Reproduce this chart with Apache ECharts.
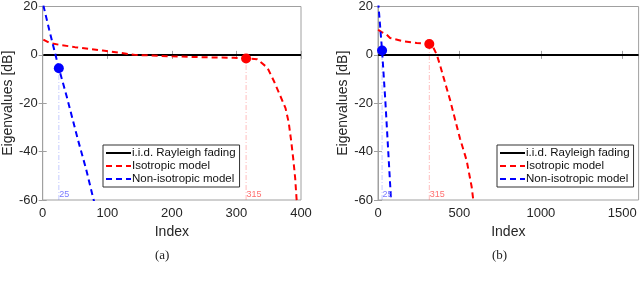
<!DOCTYPE html>
<html>
<head>
<meta charset="utf-8">
<script src="https://cdn.jsdelivr.net/npm/echarts@6/dist/echarts.min.js"></script>
<style>html,body{margin:0;padding:0;background:#fff}#c{width:640px;height:281px}</style>
</head>
<body>
<div id="c"></div>
<script>
// ---- data ----
const xTicksA = [0, 100, 200, 300, 400];
const xTicksB = [0, 500, 1000, 1500];
const yTicks = [-60, -40, -20, 0, 20];
const seriesNames = ['i.i.d. Rayleigh fading', 'Isotropic model', 'Non-isotropic model'];

// panel (a), N = 400
const iidIdxA = [1, 400];
const iidDbA = [0, 0];
const isoIdxA = [1, 10, 25, 50, 93, 143, 200, 250, 296, 315, 332, 348, 358, 368, 376, 381, 385, 388, 391, 393, 395];
const isoDbA = [6.3, 5.0, 4.2, 3.2, 1.8, 0.0, -0.6, -1.0, -1.2, -1.5, -1.8, -5.3, -10.8, -17.0, -22.0, -28.0, -36.0, -43.0, -51.0, -59.0, -66.0];
const nonIdxA = [1, 10, 25, 37, 55, 67, 78, 82];
const nonDbA = [20.5, 10.5, -5.5, -17.0, -35.5, -47.0, -59.0, -63.0];
const markIdxA = [25, 315];
const markDbA = [-5.5, -1.5];

// panel (b), N = 1600
const iidIdxB = [1, 1600];
const iidDbB = [0, 0];
const isoIdxB = [1, 20, 53, 74, 156, 238, 315, 340, 360, 380, 401, 442, 503, 544, 575, 585, 600];
const isoDbB = [10.4, 9.5, 8.4, 7.0, 5.6, 4.9, 4.5, 3.0, 0.2, -4.0, -9.0, -18.5, -34.5, -43.6, -54.5, -60.0, -66.0];
const nonIdxB = [1, 25, 45, 63, 80, 84];
const nonDbB = [22.0, 1.8, -19.0, -40.0, -60.0, -65.0];
const markIdxB = [25, 315];
const markDbB = [1.8, 4.5];

const captions = ['(a)', '(b)'];

// ---- chart ----
const zip = (xs, ys) => xs.map((x, i) => [x, ys[i]]);
const FONT = 'Liberation Sans';
const GRAY = '#a0a0a0';
const TXT = '#262626';

const grids = [
  {left: 39, top: 5, width: 262, height: 195},
  {left: 378, top: 5, width: 260.6, height: 195}
];

function xAxesFor(gi, max, interval) {
  const base = {
    type: 'value', gridIndex: gi, min: 0, max: max, interval: interval,
    splitLine: {show: false},
    axisLine: {show: true, lineStyle: {color: GRAY, width: 1}},
    axisTick: {show: true, inside: true, length: 4, lineStyle: {color: GRAY}}
  };
  return [
    Object.assign({}, base, {
      position: 'bottom',
      name: 'Index', nameLocation: 'middle', nameGap: 23,
      nameTextStyle: {fontFamily: FONT, fontSize: 14, color: TXT},
      axisLabel: {show: true, margin: 7, fontFamily: FONT, fontSize: 13, color: TXT,
        formatter: v => String(v)}
    }),
    Object.assign({}, base, {position: 'top', axisLabel: {show: false}})
  ];
}
function yAxesFor(gi) {
  const base = {
    type: 'value', gridIndex: gi, min: -60, max: 20, interval: 20,
    splitLine: {show: false},
    axisLine: {show: true, lineStyle: {color: GRAY, width: 1}},
    axisTick: {show: true, inside: true, length: 4, lineStyle: {color: GRAY}}
  };
  return [
    Object.assign({}, base, {
      position: 'left',
      name: 'Eigenvalues [dB]', nameLocation: 'middle', nameGap: 25,
      nameTextStyle: {fontFamily: FONT, fontSize: 14, color: TXT},
      axisLabel: {show: true, margin: 5, fontFamily: FONT, fontSize: 13, color: TXT}
    }),
    Object.assign({}, base, {position: 'right', axisLabel: {show: false}})
  ];
}

const xAxis = [...xAxesFor(0, 400, 100), ...xAxesFor(1, 1600, 500)];
const yAxis = [...yAxesFor(0), ...yAxesFor(1)];

function panelSeries(p, iid, iso, non, markIdx, markDb) {
  const xi = p * 2, yi = p * 2;
  const common = {type: 'line', xAxisIndex: xi, yAxisIndex: yi, symbol: 'none', silent: true, animation: false, clip: true};
  const s = [];
  s.push(Object.assign({}, common, {name: seriesNames[0], data: iid, z: 3,
    lineStyle: {color: '#000', width: 2, type: 'solid'}, itemStyle: {color: '#000'}}));
  const vcol = ['rgba(90,110,255,0.35)', 'rgba(255,90,90,0.4)'];
  const lcol = ['#5a5aff', '#ff4a4a'];
  markIdx.forEach((m, k) => {
    s.push(Object.assign({}, common, {name: 'v' + p + k, data: [[m, -60], [m, markDb[k]]], z: 1,
      lineStyle: {color: vcol[k], width: 1, type: [5, 2, 1, 2]}}));
    s.push({type: 'scatter', xAxisIndex: xi, yAxisIndex: yi, name: 'lab' + p + k, silent: true, animation: false,
      data: [[m, -60]], symbolSize: 1, itemStyle: {color: 'rgba(0,0,0,0)'}, z: 4,
      label: {show: true, position: 'right', distance: 0, offset: [0, -5], formatter: String(m),
        fontFamily: FONT, fontSize: 9, color: lcol[k]}});
  });
  s.push(Object.assign({}, common, {name: seriesNames[1], data: iso, z: 3,
    lineStyle: {color: '#ff0000', width: 2, type: [6, 4]}, itemStyle: {color: '#ff0000'}}));
  s.push(Object.assign({}, common, {name: seriesNames[2], data: non, z: 3,
    lineStyle: {color: '#0000ff', width: 2, type: [6, 4]}, itemStyle: {color: '#0000ff'}}));
  markIdx.forEach((m, k) => {
    s.push({type: 'scatter', xAxisIndex: xi, yAxisIndex: yi, name: 'dot' + p + k, silent: true, animation: false,
      data: [[m, markDb[k]]], symbol: 'circle', symbolSize: 10, z: 5,
      itemStyle: {color: k === 0 ? '#0000ff' : '#ff0000', opacity: 1}});
  });
  return s;
}

const series = [
  ...panelSeries(0, zip(iidIdxA, iidDbA), zip(isoIdxA, isoDbA), zip(nonIdxA, nonDbA), markIdxA, markDbA),
  ...panelSeries(1, zip(iidIdxB, iidDbB), zip(isoIdxB, isoDbB), zip(nonIdxB, nonDbB), markIdxB, markDbB)
];

function legendAt(left) {
  return {
    data: seriesNames, orient: 'vertical', left: left, top: 145,
    itemWidth: 25, itemHeight: 14, itemGap: 1, padding: [2, 4, 2, 2],
    borderColor: '#333', borderWidth: 1, backgroundColor: '#fff',
    itemStyle: {opacity: 0},
    selectedMode: false, textStyle: {fontFamily: FONT, fontSize: 11.5, color: '#111', padding: [0, 0, 0, -4]}
  };
}

const option = {
  backgroundColor: '#fff',
  animation: false,
  grid: grids.map(g => Object.assign({show: true, borderColor: GRAY, borderWidth: 1, backgroundColor: '#fff'}, g)),
  xAxis: xAxis,
  yAxis: yAxis,
  legend: [legendAt(103), legendAt(497)],
  series: series,
  graphic: [
    {type: 'text', left: 155, top: 249, style: {text: captions[0], font: '13px "Liberation Serif"', fill: '#222'}},
    {type: 'text', left: 492, top: 249, style: {text: captions[1], font: '13px "Liberation Serif"', fill: '#222'}}
  ]
};

const chart = echarts.init(document.getElementById('c'), null, {renderer: 'canvas'});
chart.setOption(option);
</script>
</body>
</html>
